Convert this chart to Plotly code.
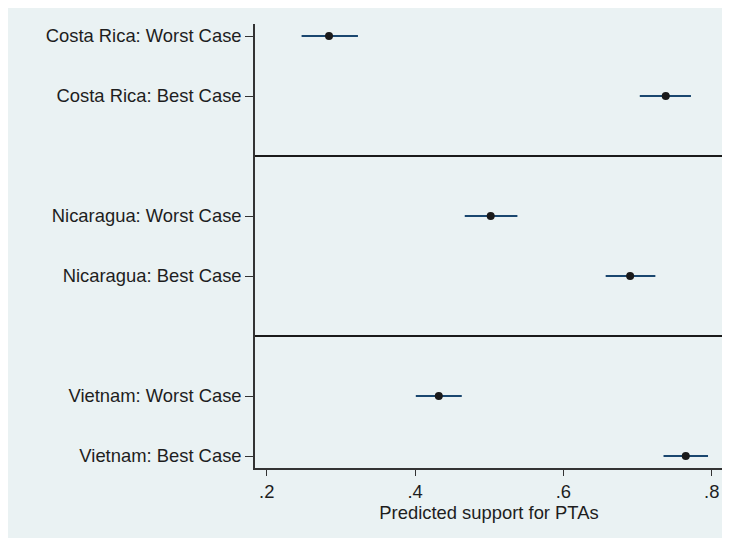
import plotly.graph_objects as go

# Data
labels = ["Costa Rica: Worst Case", "Costa Rica: Best Case",
          "Nicaragua: Worst Case", "Nicaragua: Best Case",
          "Vietnam: Worst Case", "Vietnam: Best Case"]
rows = [0, 1, 3, 4, 6, 7]
separators = [2, 5]
estimates = [0.284, 0.738, 0.502, 0.690, 0.432, 0.765]
ci_low = [0.247, 0.703, 0.467, 0.657, 0.401, 0.735]
ci_high = [0.323, 0.772, 0.538, 0.724, 0.463, 0.795]
xticks = [0.2, 0.4, 0.6, 0.8]
xticktext = [".2", ".4", ".6", ".8"]

BG = "#EAF2F3"
NAVY = "#1a476f"
TXT = "#1e1e1e"
FONT = "Liberation Sans, Arial, sans-serif"
FS = 18.4

# page body has an 8px default margin; compensate
W, H = 722, 532
ML, MR, MT, MB = 247, 7, 16, 72
PW, PH = W - ML - MR, H - MT - MB

fig = go.Figure()
fig.add_trace(go.Scatter(
    x=estimates, y=rows, mode="markers",
    marker=dict(size=8, color="#1a1a1a"),
    error_x=dict(type="data", symmetric=False,
                 array=[h - e for h, e in zip(ci_high, estimates)],
                 arrayminus=[e - l for e, l in zip(estimates, ci_low)],
                 color=NAVY, thickness=2, width=0),
    showlegend=False,
))

shapes = [dict(type="rect", xref="paper", yref="paper", layer="below",
               x0=-ML / PW, x1=1 + MR / PW, y0=-(MB - 2) / PH, y1=1 + MT / PH,
               fillcolor=BG, line=dict(width=0))]
for s in separators:
    shapes.append(dict(type="line", xref="paper", yref="y", x0=0, x1=1,
                       y0=s, y1=s, line=dict(color="#1a1a1a", width=2)))

fig.update_layout(
    width=W, height=H,
    margin=dict(l=ML, r=MR, t=MT, b=MB),
    paper_bgcolor="white", plot_bgcolor="white",
    font=dict(family=FONT, size=FS, color=TXT),
    shapes=shapes,
    xaxis=dict(range=[0.1842, 0.8152], tickvals=xticks, ticktext=xticktext,
               showgrid=False, zeroline=False, showline=True,
               linecolor="#333333", linewidth=1.5,
               ticks="outside", ticklen=6, tickcolor="#333333",
               tickfont=dict(size=FS, color=TXT),
               title=dict(text="Predicted support for PTAs", standoff=2,
                          font=dict(size=FS, color=TXT))),
    yaxis=dict(range=[7.2, -0.2], tickvals=rows, ticktext=labels,
               showgrid=True, gridcolor=BG, gridwidth=1.5,
               zeroline=False, showline=True,
               linecolor="#333333", linewidth=1.5,
               ticks="outside", ticklen=8, tickcolor="#333333",
               tickfont=dict(size=FS, color=TXT)),
)

fig.write_html("out.html")
